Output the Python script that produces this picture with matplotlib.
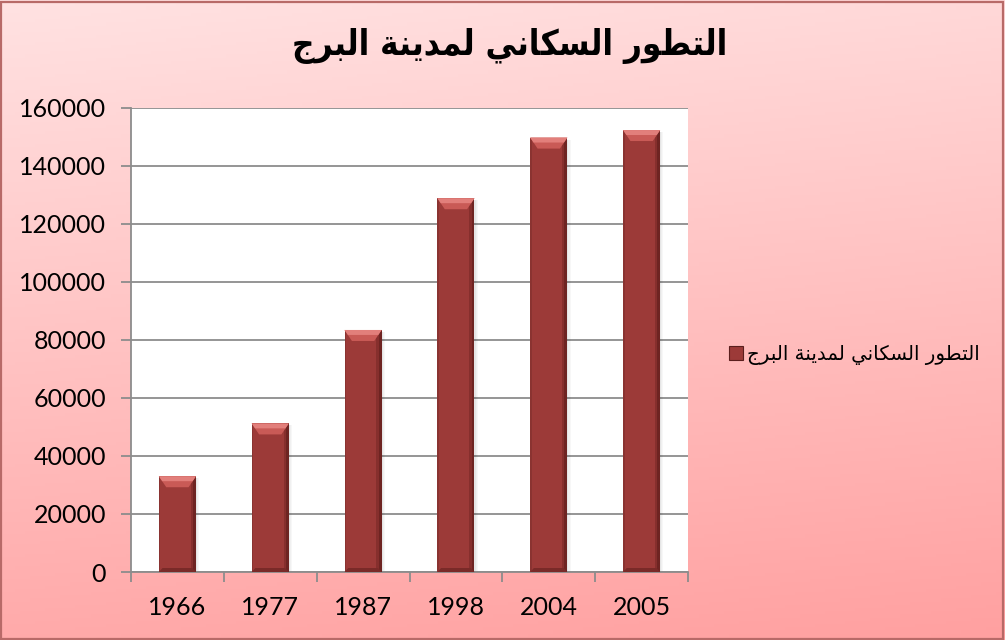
import numpy as np
import matplotlib
matplotlib.use("Agg")
import matplotlib.pyplot as plt
from matplotlib.patches import Polygon, Rectangle, Patch

# ---- data ----
years = ["1966", "1977", "1987", "1998", "2004", "2005"]
population = [33000, 51200, 83400, 128800, 149700, 152300]
yticks = [0, 20000, 40000, 60000, 80000, 100000, 120000, 140000, 160000]
title_text = "التطور السكاني لمدينة البرج"
series_name = "التطور السكاني لمدينة البرج"

# ---- minimal Arabic shaping (presentation forms) ----
FORMS = {
    'ا': (0xFE8D, 0xFE8E, None, None),
    'ب': (0xFE8F, 0xFE90, 0xFE91, 0xFE92),
    'ة': (0xFE93, 0xFE94, None, None),
    'ت': (0xFE95, 0xFE96, 0xFE97, 0xFE98),
    'ج': (0xFE9D, 0xFE9E, 0xFE9F, 0xFEA0),
    'د': (0xFEA9, 0xFEAA, None, None),
    'ر': (0xFEAD, 0xFEAE, None, None),
    'س': (0xFEB1, 0xFEB2, 0xFEB3, 0xFEB4),
    'ط': (0xFEC1, 0xFEC2, 0xFEC3, 0xFEC4),
    'ك': (0xFED9, 0xFEDA, 0xFEDB, 0xFEDC),
    'ل': (0xFEDD, 0xFEDE, 0xFEDF, 0xFEE0),
    'م': (0xFEE1, 0xFEE2, 0xFEE3, 0xFEE4),
    'ن': (0xFEE5, 0xFEE6, 0xFEE7, 0xFEE8),
    'و': (0xFEED, 0xFEEE, None, None),
    'ي': (0xFEF1, 0xFEF2, 0xFEF3, 0xFEF4),
}


def shape(s):
    out = []
    for i, c in enumerate(s):
        if c not in FORMS:
            out.append(c)
            continue
        prev = s[i - 1] if i > 0 else None
        nxt = s[i + 1] if i + 1 < len(s) else None
        jp = prev in FORMS and FORMS[prev][2] is not None
        jn = nxt in FORMS and FORMS[c][2] is not None
        iso, fin, ini, med = FORMS[c]
        if jp and jn:
            code = med
        elif jp:
            code = fin
        elif jn:
            code = ini
        else:
            code = iso
        out.append(chr(code))
    return "".join(out)[::-1]


W, H = 1005, 640
fig = plt.figure(figsize=(W / 100, H / 100), dpi=100)

# background gradient
bg = fig.add_axes([0, 0, 1, 1], zorder=-10)
yy, xx = np.mgrid[0:1:200j, 0:1:200j]
t = 0.85 * yy + 0.15 * xx
c_top = np.array([255, 226, 226]) / 255
c_bot = np.array([255, 160, 160]) / 255
img = c_top[None, None, :] * (1 - t[..., None]) + c_bot[None, None, :] * t[..., None]
bg.imshow(img, extent=[0, 1, 0, 1], aspect="auto", origin="upper")
bg.set_xlim(0, 1)
bg.set_ylim(0, 1)
bg.axis("off")
bg.add_patch(Rectangle((0.001, 0.002), 0.997, 0.995, fill=False,
                       edgecolor="#b86a68", lw=1.6, transform=bg.transAxes))

ax = fig.add_axes([131 / W, (H - 572) / H, (688 - 131) / W, (572 - 107.7) / H])
ax.set_facecolor("white")

x = np.arange(len(years))
bw = 0.4
bar_col = "#9c3a38"
bars = ax.bar(x, population, width=bw, color=bar_col, zorder=3, edgecolor="none")

ymax = 160000
ax.set_ylim(0, ymax)
ax.set_xlim(-0.5, len(years) - 0.5)

# bevel decorations derived from bar values
px_y = ymax / (572 - 107.7)  # data units per pixel
for xi, v in zip(x, population):
    x0, x1 = xi - bw / 2, xi + bw / 2
    d = bw * 0.2
    h = 11 * px_y
    ax.add_patch(Rectangle((x1 - bw * 0.08, 0), bw * 0.08, v, color="#6e2422", zorder=4, lw=0))
    ax.add_patch(Rectangle((x1 - bw * 0.14, 0), bw * 0.06, v, color="#862f2d", zorder=4, lw=0))
    ax.add_patch(Rectangle((x0, 0), bw * 0.04, v, color="#8a3331", zorder=4, lw=0))
    ax.add_patch(Polygon([(x0, 0), (x1, 0), (x1 - d * 0.5, 4 * px_y), (x0 + d * 0.5, 4 * px_y)],
                         closed=True, color="#7a2a28", zorder=5, lw=0))
    ax.add_patch(Polygon([(x0, v), (x1, v), (x1 - d, v - h), (x0 + d, v - h)],
                         closed=True, color="#c95a56", zorder=5, lw=0))
    ax.add_patch(Polygon([(x0, v), (x1, v), (x1 - d * 0.45, v - h * 0.45), (x0 + d * 0.45, v - h * 0.45)],
                         closed=True, color="#e27f7b", zorder=6, lw=0))
    for k, a in enumerate([0.10, 0.06, 0.03]):
        ax.add_patch(Rectangle((x1 + k * 0.012, 0), 0.012, v - 2 * px_y, color="black",
                               alpha=a, zorder=2, lw=0))

ax.set_yticks(yticks)
ax.set_yticklabels([str(v) for v in yticks])
ax.yaxis.grid(True, color="#8c8c8c", lw=1.3, zorder=1)
ax.set_axisbelow(True)

ax.set_xticks(x)
ax.set_xticklabels(years)
ax.set_xticks(np.arange(-0.5, len(years)), minor=True)
ax.tick_params(axis="x", which="major", length=0, pad=17)
ax.tick_params(axis="x", which="minor", length=7, color="#8c8c8c", width=1.3, direction="out")
ax.tick_params(axis="y", length=7, color="#8c8c8c", width=1.3, pad=11)

for sp in ["top", "right"]:
    ax.spines[sp].set_visible(False)
for sp in ["left", "bottom"]:
    ax.spines[sp].set_color("#8c8c8c")
    ax.spines[sp].set_linewidth(1.3)

for lab in ax.get_xticklabels() + ax.get_yticklabels():
    lab.set_fontfamily("Lato")
    lab.set_fontsize(18)
    lab.set_color("black")

fig.text(510 / W, 1 - 46 / H, shape(title_text), ha="center", va="center",
         fontsize=25, fontweight="bold", fontstretch="condensed",
         family="DejaVu Sans", color="black")

# legend
handle = Patch(facecolor=bar_col, edgecolor="#5a1e1d", lw=0.8)
leg = fig.legend([handle], [shape(series_name)], loc="center left",
                 bbox_to_anchor=(711 / W, 1 - 355 / H), frameon=False,
                 prop={"family": "DejaVu Sans", "size": 14.2},
                 handlelength=0.7, handleheight=0.7, handletextpad=0.2)

fig.savefig("out.png", dpi=100)
